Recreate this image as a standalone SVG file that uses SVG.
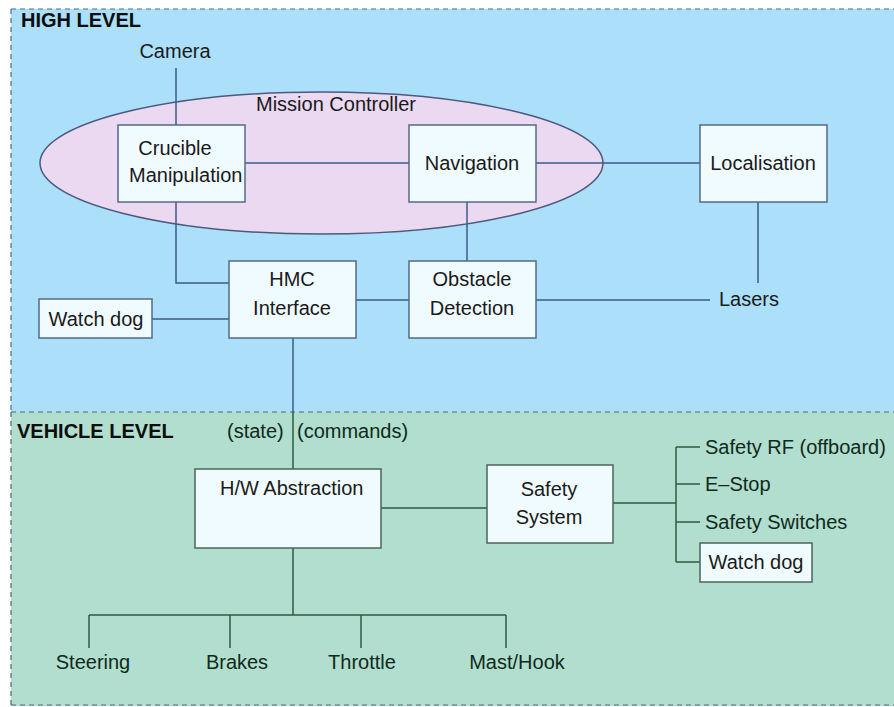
<svg xmlns="http://www.w3.org/2000/svg" width="894" height="707" viewBox="0 0 894 707">
<style>
.t{font-family:"Liberation Sans",Arial,sans-serif;font-size:20px;fill:#1a1a1a;text-anchor:middle;dominant-baseline:central}
.s{text-anchor:start}
.b{font-weight:bold;text-anchor:start;fill:#0d0d0d}
.g{fill:#0f2a1a}
.box{fill:#f0fbff;stroke:#55688a;stroke-width:1.5}
.boxg{fill:#f0fbff;stroke:#4c6458;stroke-width:1.5}
.lb{fill:none;stroke:#3c5c88;stroke-width:1.5}
.lg{fill:none;stroke:#2f5a40;stroke-width:1.5}
</style>
<rect width="894" height="707" fill="#ffffff"/>
<g id="high-level">
<rect x="11" y="9" width="890" height="403" fill="#abdffa"/>
<path d="M11 9H894M11 9V412" stroke="#4a6a90" stroke-width="1.2" stroke-dasharray="5 4" fill="none"/>
<text class="t b" x="21" y="20">HIGH LEVEL</text>
</g>
<g id="vehicle-level">
<rect x="11" y="412" width="890" height="294" fill="#b1dece"/>
<path d="M11 412H894M11 412V705M11 705H894" stroke="#4a6a70" stroke-width="1.2" stroke-dasharray="5 4" fill="none"/>
<text class="t b" x="17" y="431">VEHICLE LEVEL</text>
</g>
<g id="mission-controller">
<ellipse cx="321.5" cy="163" rx="281.5" ry="71" fill="#ead9f1" stroke="#4d5a7c" stroke-width="1.5"/>
<text class="t" x="336" y="104">Mission Controller</text>
</g>
<g id="connectors">
<path class="lb" d="M176 68V125M176 202V283H229"/>
<path class="lb" d="M245 163H409M536 163H700"/>
<path class="lb" d="M758 202V283"/>
<path class="lb" d="M467 202V261"/>
<path class="lb" d="M356 300H409M536 300H710"/>
<path class="lb" d="M152 319H229"/>
<path class="lb" d="M293 338V412"/>
<path class="lg" d="M293 412V469"/>
<path class="lg" d="M381 508H487"/>
<path class="lg" d="M613 503H676M676 447V562M676 447H700M676 484H700M676 522H700M676 562H700"/>
<path class="lg" d="M293 548V615M89 615H506M89 615V648M230 615V648M361 615V648M506 615V648"/>
</g>
<g id="camera"><text class="t" x="175" y="51">Camera</text></g>
<g id="crucible-manipulation">
<rect class="box" x="118" y="125" width="127" height="77"/>
<text class="t" x="175" y="148">Crucible</text>
<text class="t s" x="129" y="175">Manipulation</text>
</g>
<g id="navigation">
<rect class="box" x="409" y="125" width="127" height="77"/>
<text class="t" x="472" y="163">Navigation</text>
</g>
<g id="localisation">
<rect class="box" x="700" y="125" width="127" height="77"/>
<text class="t" x="763" y="163">Localisation</text>
</g>
<g id="hmc-interface">
<rect class="box" x="229" y="261" width="127" height="77"/>
<text class="t" x="292" y="279">HMC</text>
<text class="t" x="292" y="308">Interface</text>
</g>
<g id="obstacle-detection">
<rect class="box" x="409" y="261" width="127" height="77"/>
<text class="t" x="472" y="279">Obstacle</text>
<text class="t" x="472" y="308">Detection</text>
</g>
<g id="watch-dog-1">
<rect class="box" x="39" y="299" width="113" height="39"/>
<text class="t" x="96" y="319">Watch dog</text>
</g>
<g id="lasers"><text class="t s" x="719" y="299">Lasers</text></g>
<g id="labels"><text class="t g s" x="227" y="431">(state)</text><text class="t g s" x="297" y="431">(commands)</text></g>
<g id="hw-abstraction">
<rect class="boxg" x="195" y="469" width="186" height="79"/>
<text class="t s" x="220" y="488">H/W Abstraction</text>
</g>
<g id="safety-system">
<rect class="boxg" x="487" y="465" width="126" height="78"/>
<text class="t" x="549" y="489">Safety</text>
<text class="t" x="549" y="517">System</text>
</g>
<g id="safety-rf"><text class="t g s" x="705" y="447">Safety RF (offboard)</text></g>
<g id="e-stop"><text class="t g s" x="705" y="484">E–Stop</text></g>
<g id="safety-switches"><text class="t g s" x="705" y="522">Safety Switches</text></g>
<g id="watch-dog-2">
<rect class="boxg" x="700" y="543" width="112" height="39"/>
<text class="t" x="756" y="562">Watch dog</text>
</g>
<g id="steering"><text class="t g" x="93" y="662">Steering</text></g>
<g id="brakes"><text class="t g" x="237" y="662">Brakes</text></g>
<g id="throttle"><text class="t g" x="362" y="662">Throttle</text></g>
<g id="mast-hook"><text class="t g" x="517" y="662">Mast/Hook</text></g>
</svg>
